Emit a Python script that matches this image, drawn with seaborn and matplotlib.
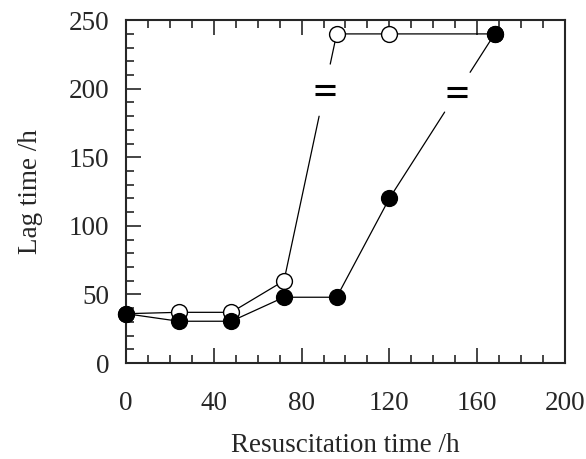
import numpy as np
import pandas as pd
import matplotlib
matplotlib.use("Agg")
import matplotlib.pyplot as plt
import seaborn as sns
from matplotlib.ticker import MultipleLocator

# resuscitation time (h) and lag time (h)
hours = [0, 24, 48, 72, 96, 120, 168]
lag_open = [36, 37, 37, 60, 240, 240, 240]
lag_filled = [36, 30.5, 30.5, 48, 48, 120, 240]

# axis-break gaps on the steep segments: (segment start index, y low, y high)
break_open = (3, 180, 218)
break_filled = (5, 183, 212)


def draw_series(ax, x, y, brk, face):
    i, lo, hi = brk
    xs, ys = np.array(x, float), np.array(y, float)
    x_lo = np.interp(lo, ys[i:i + 2], xs[i:i + 2])
    x_hi = np.interp(hi, ys[i:i + 2], xs[i:i + 2])
    # line before break, after break
    ax.plot(list(xs[:i + 1]) + [x_lo], list(ys[:i + 1]) + [lo], color="black", lw=0.9, zorder=2)
    ax.plot([x_hi] + list(xs[i + 1:]), [hi] + list(ys[i + 1:]), color="black", lw=0.9, zorder=2)
    # break mark: two short bars
    xm, ym = (x_lo + x_hi) / 2, (lo + hi) / 2
    for dy in (-2.9, 2.9):
        ax.plot([xm - 4.5, xm + 4.5], [ym + dy, ym + dy], color="black", lw=2.2,
                solid_capstyle="butt", zorder=3)
    df = pd.DataFrame({"x": x, "y": y})
    sns.scatterplot(data=df, x="x", y="y", ax=ax, s=130, marker="o",
                    facecolor=face, edgecolor="black", linewidth=1.0, zorder=4, clip_on=False)


sns.set_style("ticks")
plt.rcParams["font.family"] = ["Liberation Serif", "DejaVu Serif"]

fig = plt.figure(figsize=(5.86, 4.59), dpi=100)
ax = fig.add_axes([0.215, 0.209, 0.749, 0.747])

draw_series(ax, hours, lag_open, break_open, "white")
draw_series(ax, hours, lag_filled, break_filled, "black")

ax.set_xlim(0, 200)
ax.set_ylim(0, 250)
ax.xaxis.set_major_locator(MultipleLocator(40))
ax.xaxis.set_minor_locator(MultipleLocator(10))
ax.yaxis.set_major_locator(MultipleLocator(50))
ax.yaxis.set_minor_locator(MultipleLocator(10))
ax.tick_params(which="both", direction="in", top=True, right=False, width=1.2, labelsize=19.5)
ax.tick_params(axis="x", which="both", pad=20)
ax.tick_params(axis="y", which="both", pad=12)
ax.tick_params(which="major", length=11)
ax.tick_params(which="minor", length=6)
for s in ax.spines.values():
    s.set_linewidth(1.5)

ax.set_xlabel("Resuscitation time /h", fontsize=19.5, labelpad=12)
ax.set_ylabel("Lag time /h", fontsize=19.5)
ax.yaxis.set_label_coords(-0.19, 0.5)

fig.savefig("out.png", dpi=100)
plt.close(fig)
